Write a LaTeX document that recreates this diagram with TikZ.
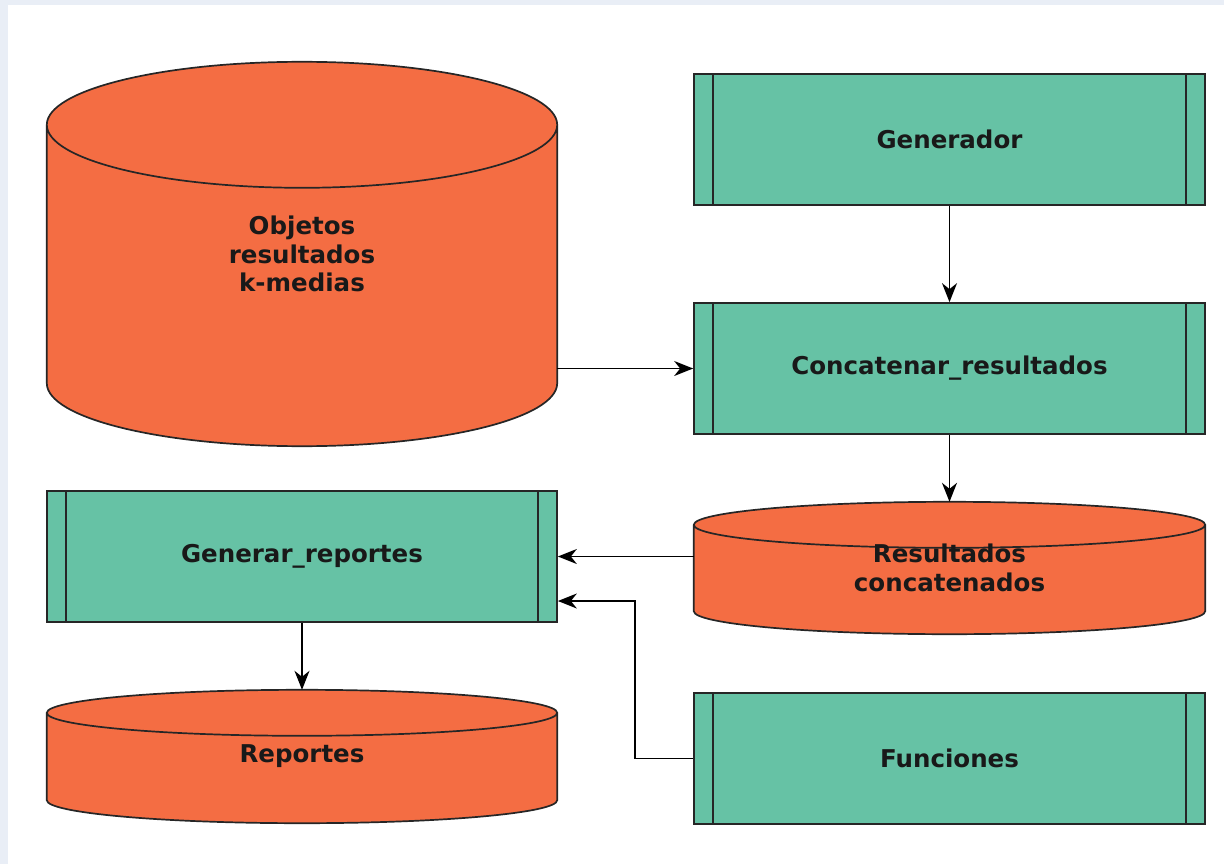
\documentclass[tikz,border=0pt]{standalone}
\usepackage{fontspec}
\setmainfont{DejaVu Sans}
\usetikzlibrary{arrows.meta,calc,backgrounds}
\definecolor{cylorange}{HTML}{F46D43}
\definecolor{procteal}{HTML}{66C2A5}
\definecolor{bgblue}{HTML}{E9EEF6}
\newcommand{\drawcyl}[2]{%
  \path let \p1=(#1.north west), \p2=(#1.south east), \n1={0.5*(\x2-\x1)} in
    [fill=cylorange, draw=black!85, line width=1.7pt]
    ({\x1},{\y1-#2pt}) -- ({\x1},{\y2+#2pt})
      arc[start angle=180,end angle=360,x radius=\n1,y radius=#2pt]
      -- ({\x2},{\y1-#2pt})
      arc[start angle=0,end angle=180,x radius=\n1,y radius=#2pt] -- cycle
    ({\x1},{\y1-#2pt}) arc[start angle=180,end angle=360,x radius=\n1,y radius=#2pt];
}
\tikzset{
  lbl/.style={font=\bfseries\fontsize{24.5}{28.5}\selectfont, text=black!90, align=center},
  cylbox/.style={lbl, rectangle, inner sep=0pt},
  procbox/.style={lbl, rectangle, draw=black!85, line width=1.7pt, fill=procteal,
    minimum width=511pt, minimum height=131pt, inner sep=0pt,
    path picture={
      \draw[line width=1.7pt, black!85] ([xshift=19pt]path picture bounding box.north west) -- ([xshift=19pt]path picture bounding box.south west);
      \draw[line width=1.7pt, black!85] ([xshift=-19pt]path picture bounding box.north east) -- ([xshift=-19pt]path picture bounding box.south east);
    }},
  arr/.style={draw=black, line width=1.6pt, -{Stealth[length=19pt,width=15pt,inset=6pt]}}
}
\begin{document}
\begin{tikzpicture}[x=1pt,y=-1pt]
\useasboundingbox (0,0) rectangle (1224,864);
% nodes
\node[cylbox, minimum width=510pt, minimum height=384pt] (obj) at (302,254) {Objetos\\resultados\\k-medias};
\node[cylbox, minimum width=511pt, minimum height=132pt] (resc) at (949.5,568) {Resultados\\concatenados};
\node[cylbox, minimum width=510pt, minimum height=133pt] (rep) at (302,756.5) {Reportes};
\node[procbox] (gen) at (949.5,139.5) {Generador};
\node[procbox] (conc) at (949.5,368.5) {Concatenar\_resultados};
\node[procbox, minimum width=510pt] (genrep) at (302,556.5) {Generar\_reportes};
\node[procbox] (func) at (949.5,758.5) {Funciones};
\begin{scope}[on background layer]
  \fill[white] (0,0) rectangle (1224,864);
  \fill[bgblue] (0,0) rectangle (8,864);
  \fill[bgblue] (0,0) rectangle (1224,5);
  \drawcyl{obj}{63}
  \drawcyl{resc}{23}
  \drawcyl{rep}{23}
\end{scope}
% connectors
\draw[arr] (gen) -- (conc);
\draw[arr] (obj.east |- conc.west) -- (conc.west);
\draw[arr] (conc) -- (resc);
\draw[arr] (genrep.east -| resc.west) -- (genrep.east);
\draw[arr] (func.west) -- ++(-58,0) |- ([yshift=-44.5pt]genrep.east);
\draw[arr] (genrep) -- (rep);
\end{tikzpicture}
\end{document}
